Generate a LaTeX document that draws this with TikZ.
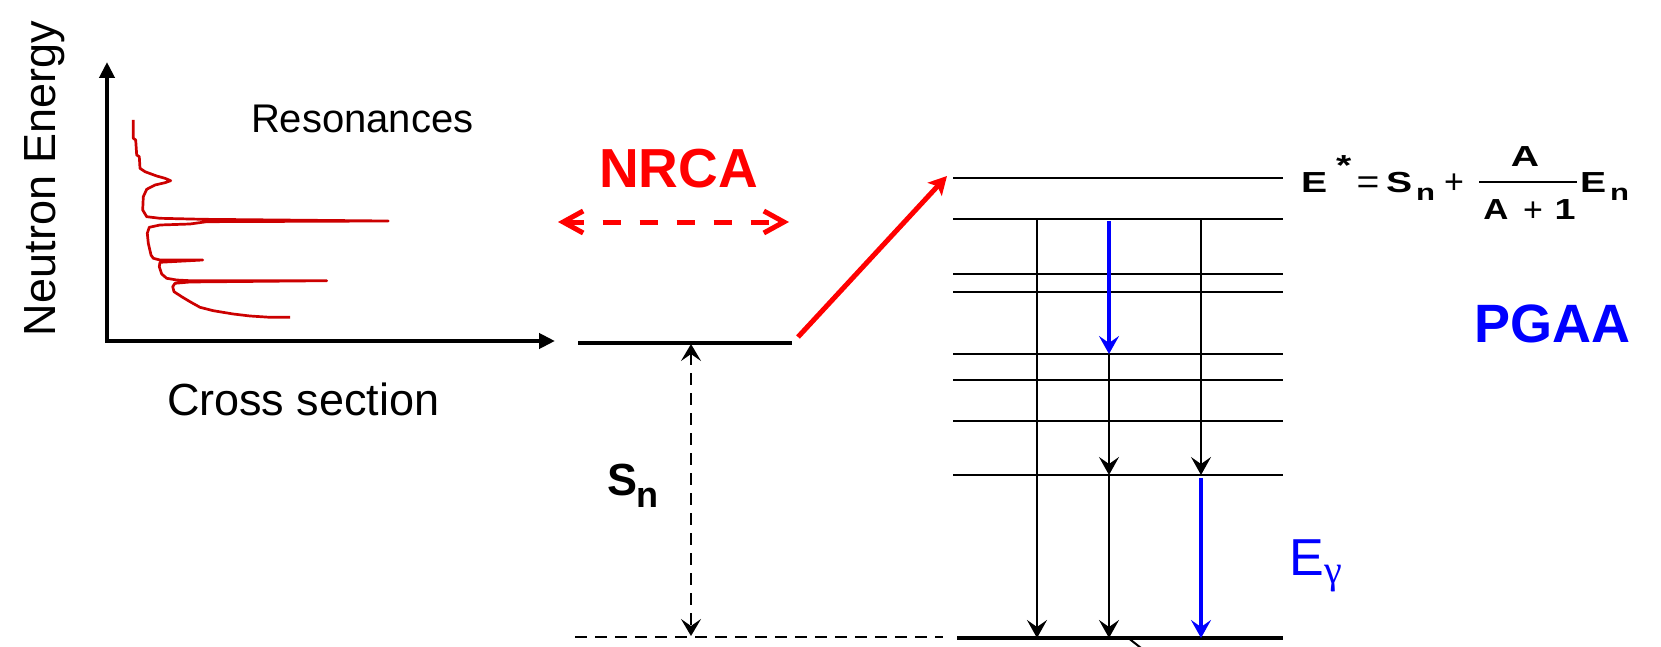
\documentclass[tikz,border=0pt]{standalone}
\usepackage{fontspec}
\setmainfont{Liberation Sans}
\newfontfamily\grkfont{Liberation Serif}
\usetikzlibrary{arrows.meta}
\definecolor{resred}{RGB}{204,0,0}
\definecolor{nred}{RGB}{255,0,0}
\definecolor{pblue}{RGB}{0,0,255}
\newcommand{\fxs}[1]{\scalebox{1.35}[1]{#1}}
\begin{document}
\begin{tikzpicture}[x=0.5pt,y=-0.5pt,
  lvl/.style={line width=1.1pt},
  gslev/.style={line width=2.3pt},
  trans/.style={line width=1pt,-{Stealth[length=9pt,width=10pt,inset=3.5pt]}},
  gtrans/.style={line width=2.2pt,pblue,-{Stealth[length=9pt,width=10pt,inset=3.5pt]}},
  lbl/.style={inner sep=0pt,outer sep=0pt},
  fml/.style={inner sep=0pt,outer sep=0pt,font=\bfseries\fontsize{14.5}{16}\selectfont},
  fop/.style={inner sep=0pt,outer sep=0pt,anchor=base,font=\mdseries\fontsize{17}{19}\selectfont},
  fsub/.style={inner sep=0pt,outer sep=0pt,anchor=base west,font=\bfseries\fontsize{11.5}{13}\selectfont},
  dsh/.style={line width=1pt,dash pattern=on 6pt off 4pt},
]
\useasboundingbox (0,0) rectangle (1661,647);

% ---------- axes ----------
\coordinate (ax0) at (107,341);
\coordinate (axx) at (555,341);
\coordinate (axy) at (107,62);
\draw[line width=2.3pt,{Triangle[length=8pt,width=7.5pt]}-{Triangle[length=8pt,width=7.5pt]}]
  (axx) -- (ax0) -- (axy);

\node[lbl,rotate=90,anchor=base west,font=\fontsize{22.5}{26}\selectfont] (ne) at (55,336) {Neutron Energy};
\node[lbl,anchor=base west,font=\fontsize{22.5}{26}\selectfont] (cs) at (167,415) {Cross section};
\node[lbl,anchor=base west,font=\fontsize{20}{24}\selectfont] (res) at (251,133) {Resonances};

% ---------- resonance curve ----------
\draw[resred,line width=1.35pt,line join=round] plot coordinates {
(133.3,120) (133.3,138.3) (135.7,140) (136.7,155) (139.3,156.7) (140,168.3)
(145,171.7) (156.7,176) (165,178.3) (170.7,180.7) (165,182.7) (155,185)
(146.7,189.3) (143.3,196.7) (142.7,210) (146.7,216.7) (160,218.3) (203.3,219.3)
(388.3,221) (206.7,221.7) (190,224) (160,225) (149.3,227.3) (147.3,233.3)
(148.3,243.3) (151,255) (153.3,258.3) (160,260) (202.7,260) (160,262.3)
(159.3,266.7) (161.7,274) (166.7,278.3) (176.7,280) (190,280.7) (326.7,280.7)
(190,282) (175,283.3) (172.7,286.7) (174,291.7) (181.7,296.7) (190,301.7)
(200,307.3) (213.3,310.7) (233.3,314) (250,316) (270,317.3) (290,317.3)};

% ---------- NRCA ----------
\node[lbl,anchor=base west,text=nred,font=\bfseries\fontsize{27.5}{32}\selectfont] (nrca) at (599,188) {NRCA};
\coordinate (nl) at (558,222);
\coordinate (nr) at (789,222);
\draw[nred,line width=2.5pt,dash pattern=on 9pt off 9.5pt,
  {Straight Barb[length=10pt,width=11pt]}-{Straight Barb[length=10pt,width=11pt]}] (nl) -- (nr);

% ---------- capture level and Sn ----------
\coordinate (capw) at (578,343);
\coordinate (cape) at (792,343);
\draw[gslev] (capw) -- (cape);
\coordinate (gdw) at (575,637);
\coordinate (gde) at (943,637);
\draw[dsh] (gdw) -- (gde);
\coordinate (snt) at (691,344);
\coordinate (snb) at (691,636);
\draw[dsh,{Stealth[length=8.5pt,width=10pt,inset=3.5pt]}-{Stealth[length=8.5pt,width=10pt,inset=3.5pt]}] (snt) -- (snb);
\node[lbl,anchor=base west,font=\bfseries\fontsize{22.5}{26}\selectfont] (sn) at (607,495)
  {S\kern-0.5pt\raisebox{-6pt}{\fontsize{18}{20}\selectfont n}};

% ---------- red excitation arrow ----------
\coordinate (rs) at (798,337);
\coordinate (re) at (947,176);
\draw[nred,line width=2.5pt,-{Stealth[length=9pt,width=9.5pt,inset=2pt]}] (rs) -- (re);

% ---------- level scheme ----------
\foreach \i/\y in {1/178,2/219,3/274,4/292,5/354,6/380,7/421,8/475}{
  \coordinate (lw\i) at (953,\y);
  \coordinate (le\i) at (1283,\y);
  \draw[lvl] (lw\i) -- (le\i);
}
\coordinate (gw) at (957,638);
\coordinate (ge) at (1283,638);
\draw[gslev] (gw) -- (ge);
\coordinate (tl1) at (1127,637);
\coordinate (tl2) at (1141,648);
\draw[line width=1pt] (tl1) -- (tl2);

% transitions
\coordinate (a1t) at (1037,219);  \coordinate (a1b) at (1037,638);
\coordinate (b1t) at (1109,221);  \coordinate (b1b) at (1109,354);
\coordinate (b2b) at (1109,475);  \coordinate (b3b) at (1109,638);
\coordinate (c1t) at (1201,219);  \coordinate (c1b) at (1201,475);
\coordinate (c2t) at (1201,478);  \coordinate (c2b) at (1201,638);
\draw[trans] (a1t) -- (a1b);
\draw[gtrans] (b1t) -- (b1b);
\draw[trans] (b1b) -- (b2b);
\draw[trans] (b2b) -- (b3b);
\draw[trans] (c1t) -- (c1b);
\draw[gtrans] (c2t) -- (c2b);

% ---------- labels right ----------
\node[lbl,anchor=base west,text=pblue,font=\bfseries\fontsize{27}{32}\selectfont] (pgaa) at (1474,342) {PGAA};
\node[lbl,anchor=base west,text=pblue,font=\fontsize{26}{30}\selectfont] (eg) at (1289,575)
  {E\kern0.5pt\raisebox{-4pt}{\grkfont\fontsize{20}{22}\selectfont γ}};

% ---------- formula ----------
\node[fml,anchor=base west] (fE) at (1301,192) {\fxs{E}};
\node[fml,anchor=base west] (fst) at (1336,176) {\fxs{*}};
\node[fop] (feq) at (1368,193) {\scalebox{1.15}[1]{=}};
\node[fml,anchor=base west] (fS) at (1386,192) {\fxs{S}};
\node[fsub] (fn1) at (1416,200) {\fxs{n}};
\node[fop] (fpl) at (1454,193) {+};
\node[fml,anchor=base] (fnum) at (1525,167) {\fxs{A}};
\draw[line width=0.8pt] (1479,182) -- (1577,182);
\node[fml,anchor=base] (fdA) at (1496,220) {\scalebox{1.2}[1]{A}};
\node[fop] (fdp) at (1533,221) {+};
\node[fml,anchor=base] (fd1) at (1565,220) {\scalebox{1.3}[1]{1}};
\node[fml,anchor=base west] (fE2) at (1580,192) {\fxs{E}};
\node[fsub] (fn2) at (1610,200) {\fxs{n}};
\end{tikzpicture}
\end{document}
